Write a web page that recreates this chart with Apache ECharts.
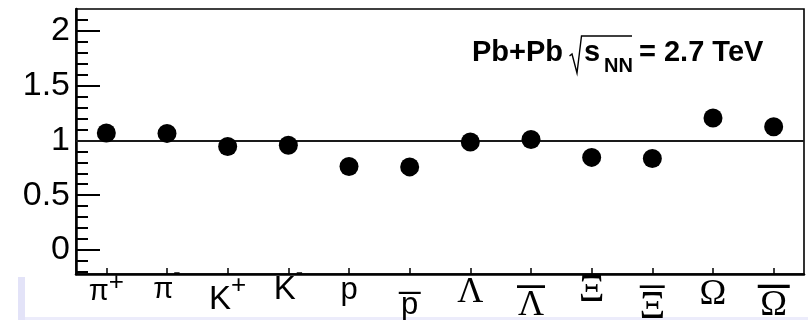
<!DOCTYPE html>
<html>
<head>
<meta charset="utf-8">
<script src="https://cdn.jsdelivr.net/npm/echarts@6/dist/echarts.min.js"></script>
<style>
  html, body { margin: 0; padding: 0; background: #fff; }
  #chart { width: 808px; height: 320px; }
</style>
</head>
<body>
<div id="chart"></div>
<script>
// Particle species along the x axis
const particles = ['pi+', 'pi-', 'K+', 'K-', 'p', 'pbar', 'Lambda', 'Lambdabar', 'Xi', 'Xibar', 'Omega', 'Omegabar'];
// Ratio for each species
const ratios = [1.068, 1.064, 0.945, 0.955, 0.761, 0.758, 0.985, 1.009, 0.845, 0.834, 1.204, 1.125];
// Y axis labelled ticks and minor ticks
const yMajorTicks = [0, 0.5, 1, 1.5, 2];
const yMinorTicks = [-0.2, -0.1, 0.1, 0.2, 0.3, 0.4, 0.6, 0.7, 0.8, 0.9, 1.1, 1.2, 1.3, 1.4, 1.6, 1.7, 1.8, 1.9, 2.1];
const referenceLevel = 1;

// Rich-text pieces for the particle symbols
const SANS = 'Liberation Sans';
const SERIF = 'Liberation Serif';
function tok(fontSize, padTop, family, weight) {
  return {
    fontSize: fontSize, fontFamily: family || SANS, fontWeight: weight || 'normal',
    color: '#000', height: 0, verticalAlign: 'top', padding: [padTop, 0, 0, 0]
  };
}
const richStyles = {
  piA: tok(29, 32), plusA: tok(26, 23),
  piB: tok(29, 30), minB: tok(22, 12.5),
  kC: tok(33, 40.2), plusC: tok(26, 26),
  kD: tok(33, 30.2), minD: tok(22, 12.5),
  pE: tok(31, 30.4),
  barF: tok(22, 33.4, SANS, 'bold'), pF: tok(31, 12),
  lamG: tok(36, 32.7, SERIF),
  barH: tok(28, 26, SANS, 'bold'), lamH: tok(36, 19.7, SERIF),
  xiI: tok(40, 30.2, SERIF),
  barJ: tok(25, 27.2, SANS, 'bold'), xiJ: tok(40, 20, SERIF),
  omK: tok(36, 34.7, SERIF),
  barL: tok(32, 25.7, SANS, 'bold'), omL: tok(36, 20, SERIF)
};
const symbolText = {
  'pi+': '{piA|π}{plusA|+}',
  'pi-': '{piB|π}{minB|-}',
  'K+': '{kC|K}{plusC|+}',
  'K-': '{kD|K}{minD|-}',
  'p': '{pE|p}',
  'pbar': '{barF|—}\n{pF|p}',
  'Lambda': '{lamG|Λ}',
  'Lambdabar': '{barH|—}\n{lamH|Λ}',
  'Xi': '{xiI|Ξ}',
  'Xibar': '{barJ|—}\n{xiJ|Ξ}',
  'Omega': '{omK|Ω}',
  'Omegabar': '{barL|—}\n{omL|Ω}'
};

const chart = echarts.init(document.getElementById('chart'), null, { renderer: 'canvas' });

const boldFont = 'bold 29px "Liberation Sans"';

chart.setOption({
  animation: false,
  backgroundColor: '#fff',
  grid: {
    left: 76, right: 4, top: 9, bottom: 46,
    show: true, borderColor: '#000', borderWidth: 1.6,
    containLabel: false, outerBoundsMode: 'none'
  },
  xAxis: {
    type: 'category',
    data: particles,
    boundaryGap: true,
    axisLine: { show: true, onZero: false, lineStyle: { color: '#000', width: 2.5 } },
    axisTick: { show: true, inside: true, alignWithLabel: true, length: 6, lineStyle: { color: '#000', width: 1.5 } },
    axisLabel: {
      interval: 0, margin: -14, color: '#000', hideOverlap: false,
      formatter: function (v) { return symbolText[v]; },
      rich: richStyles
    },
    splitLine: { show: false }
  },
  yAxis: [
    {
      type: 'value', min: -0.22, max: 2.2, position: 'left',
      axisLine: { show: true, lineStyle: { color: '#000', width: 2.5 } },
      axisTick: { show: true, inside: true, length: 24, customValues: yMajorTicks, lineStyle: { color: '#000', width: 2 } },
      axisLabel: {
        customValues: yMajorTicks, fontSize: 34, fontFamily: SANS, color: '#000', margin: 6
      },
      splitLine: { show: false }
    },
    {
      type: 'value', min: -0.22, max: 2.2, position: 'left',
      axisLine: { show: false },
      axisTick: { show: true, inside: true, length: 12, customValues: yMinorTicks, lineStyle: { color: '#000', width: 2 } },
      axisLabel: { show: false },
      splitLine: { show: false }
    }
  ],
  series: [{
    type: 'scatter',
    data: ratios,
    symbol: 'circle',
    symbolSize: 19,
    itemStyle: { color: '#000', opacity: 1 },
    z: 5,
    markLine: {
      silent: true,
      symbol: 'none',
      label: { show: false },
      lineStyle: { color: '#1a1a1a', width: 2, type: 'solid', opacity: 1 },
      data: [{ yAxis: referenceLevel }]
    }
  }],
  graphic: [
    // light page background pieces at the lower left and bottom
    { type: 'rect', z: -10, shape: { x: 18, y: 277, width: 7, height: 43 }, style: { fill: '#e3e3f8' } },
    { type: 'rect', z: -10, shape: { x: 25, y: 317, width: 783, height: 3 }, style: { fill: '#ececfb' } },
    // collision system label (baselines at 62.5 and 73)
    { type: 'text', x: 472, y: 52.5, style: { text: 'Pb+Pb', font: boldFont, fill: '#000', verticalAlign: 'middle' } },
    { type: 'polyline', shape: { points: [[569.5, 56], [572, 54], [577, 73], [581.5, 36], [632, 36]] }, style: { stroke: '#000', lineWidth: 1.4, fill: null } },
    { type: 'text', x: 584, y: 52.5, style: { text: 's', font: boldFont, fill: '#000', verticalAlign: 'middle' } },
    { type: 'text', x: 604, y: 66, style: { text: 'NN', font: 'bold 20px "Liberation Sans"', fill: '#000', verticalAlign: 'middle' } },
    { type: 'text', x: 639, y: 52.5, style: { text: '= 2.7 TeV', font: boldFont, fill: '#000', verticalAlign: 'middle' } }
  ]
});
</script>
</body>
</html>
